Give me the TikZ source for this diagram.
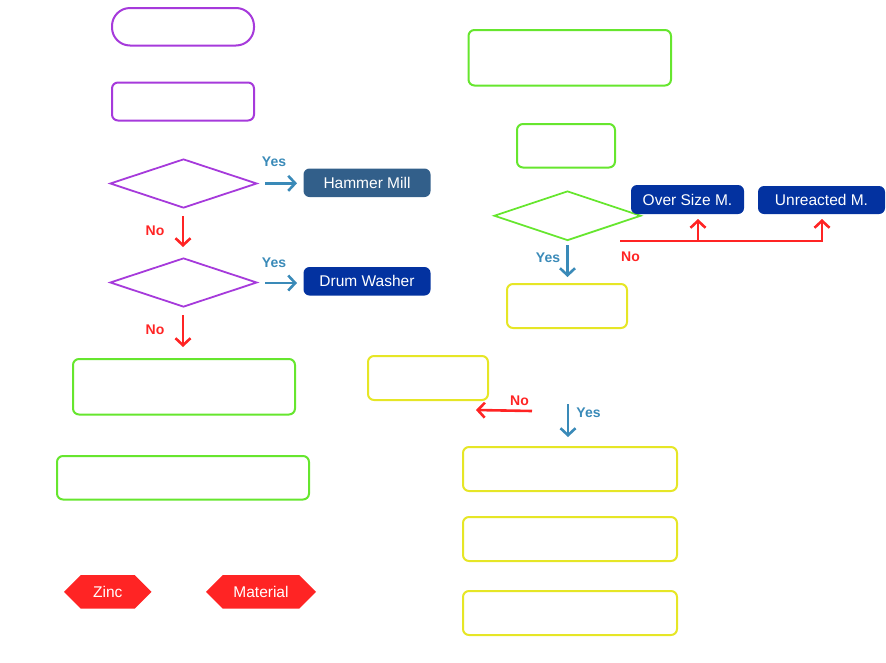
\documentclass[tikz,border=0pt]{standalone}
\usepackage{fontspec}
\setmainfont{Liberation Sans}
\usetikzlibrary{shapes.geometric,shapes.symbols,arrows.meta}
\definecolor{cpurple}{HTML}{A63ADB}
\definecolor{cgreen}{HTML}{66E62E}
\definecolor{cyellow}{HTML}{E6E626}
\definecolor{cred}{HTML}{FF2424}
\definecolor{cblue}{HTML}{3A8AB8}
\definecolor{csteel}{HTML}{325F8A}
\definecolor{cnavy}{HTML}{0332A0}
\begin{document}
\begin{tikzpicture}[x=1pt,y=-1pt,
  outl/.style={draw=#1, line width=2pt, rounded corners=6pt, inner sep=0pt, fill=white},
  dia/.style={draw=#1, line width=1.8pt, diamond, inner sep=0pt, minimum width=147pt, minimum height=49pt},
  tag/.style={fill=#1, rounded corners=6pt, inner sep=0pt, text=white, font=\fontsize{15.5}{18}\selectfont},
  hexa/.style={fill=cred, signal, signal to=west and east, signal pointer angle=90, inner sep=0pt, text=white, font=\fontsize{15.5}{18}\selectfont},
  flow/.style={draw=#1, line width=2.6pt, -{Straight Barb[length=7pt,width=15pt,line width=2.6pt]}},
  lbl/.style={text=#1, font=\bfseries\fontsize{14}{16}\selectfont, inner sep=0pt}
]
\useasboundingbox (0,0) rectangle (886,662);

% left column
\node[outl=cpurple, rounded corners=18pt, minimum width=142pt, minimum height=37.5pt] (p1) at (183,26.75) {};
\node[outl=cpurple, minimum width=142pt, minimum height=38pt] (p2) at (183,101.5) {};
\node[dia=cpurple] (d1) at (183.5,183.5) {};
\node[dia=cpurple] (d2) at (183.5,282.5) {};
\node[tag=csteel, minimum width=127pt, minimum height=28.5pt] (hm) at (367,182.75) {Hammer Mill};
\node[tag=cnavy, minimum width=127pt, minimum height=28.5pt] (dw) at (367,281.25) {Drum Washer};
\node[outl=cgreen, minimum width=222pt, minimum height=55.5pt] (g1) at (184,386.75) {};
\node[outl=cgreen, minimum width=252pt, minimum height=43.5pt] (g2) at (183,477.75) {};
\node[hexa, minimum width=87.5pt, minimum height=33.5pt] (zinc) at (107.75,591.75) {Zinc};
\node[hexa, minimum width=110pt, minimum height=33.5pt] (mat) at (261,591.75) {Material};

% right column
\node[outl=cgreen, minimum width=202.5pt, minimum height=55.5pt] (g3) at (569.75,57.75) {};
\node[outl=cgreen, minimum width=98pt, minimum height=43.5pt] (g4) at (566,145.75) {};
\node[dia=cgreen, minimum height=49.5pt] (d3) at (567.5,215.75) {};
\node[tag=cnavy, minimum width=113pt, minimum height=29pt] (os) at (687.5,199.5) {Over Size M.};
\node[tag=cnavy, minimum width=127pt, minimum height=28pt] (um) at (821.5,200) {Unreacted M.};
\node[outl=cyellow, minimum width=120pt, minimum height=44pt] (y1) at (567,306) {};
\node[outl=cyellow, minimum width=120pt, minimum height=44pt] (y2) at (428,378) {};
\node[outl=cyellow, minimum width=214pt, minimum height=44pt] (y3) at (570,469) {};
\node[outl=cyellow, minimum width=214pt, minimum height=44pt] (y4) at (570,539) {};
\node[outl=cyellow, minimum width=214pt, minimum height=44pt] (y5) at (570,613) {};

% connector end points
\coordinate (a1s) at (265,183.3); \coordinate (a1e) at (297,183.3);
\coordinate (b1s) at (183,216);   \coordinate (b1e) at (183,247);
\coordinate (a2s) at (265,283);   \coordinate (a2e) at (297,283);
\coordinate (b2s) at (183,315);   \coordinate (b2e) at (183,347);
\coordinate (n3s) at (620,241);   \coordinate (n3e) at (823,241);
\coordinate (n3a) at (698,241);   \coordinate (n3at) at (698,219);
\coordinate (n3b) at (822,241);   \coordinate (n3bt) at (822,219);
\coordinate (a3s) at (567.5,245); \coordinate (a3e) at (567.5,277);
\coordinate (b4s) at (532,411);   \coordinate (b4e) at (476,410);
\coordinate (a4s) at (568,404);   \coordinate (a4e) at (568,437);

\draw[flow=cblue] (a1s) -- (a1e);
\draw[flow=cblue] (a2s) -- (a2e);
\draw[flow=cred] (b1s) -- (b1e);
\draw[flow=cred] (b2s) -- (b2e);
\draw[draw=cred, line width=2.6pt] (n3s) -- (n3e);
\draw[flow=cred] (n3a) -- (n3at);
\draw[flow=cred] (n3b) -- (n3bt);
\draw[flow=cblue] (a3s) -- (a3e);
\draw[flow=cred] (b4s) -- (b4e);
\draw[flow=cblue] (a4s) -- (a4e);

% labels
\node[lbl=cblue] (ly1) at (274,162) {Yes};
\node[lbl=cblue] (ly2) at (274,263) {Yes};
\node[lbl=cblue] (ly3) at (548,257.5) {Yes};
\node[lbl=cblue] (ly4) at (588.5,412.5) {Yes};
\node[lbl=cred] (ln1) at (155,231) {No};
\node[lbl=cred] (ln2) at (155,330) {No};
\node[lbl=cred] (ln3) at (630.5,257) {No};
\node[lbl=cred] (ln4) at (519.5,401) {No};
\end{tikzpicture}
\end{document}
